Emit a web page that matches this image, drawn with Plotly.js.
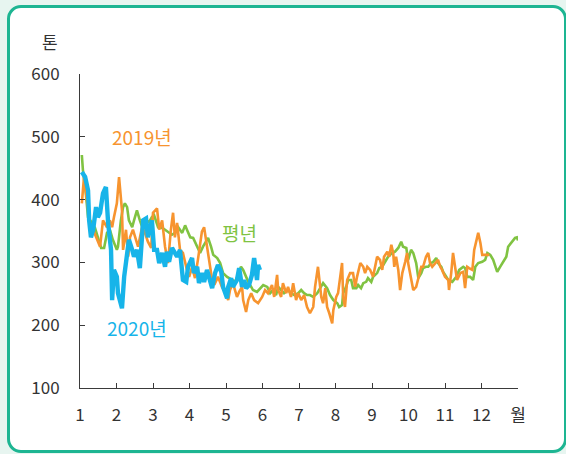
<!DOCTYPE html>
<html>
<head>
<meta charset="utf-8">
<script src="https://cdn.plot.ly/plotly-3.0.1.min.js"></script>
<style>
  html, body { margin: 0; padding: 0; }
  body { width: 566px; height: 454px; background: #e7f5f0; position: relative; overflow: hidden; }
  #frame { position: absolute; left: 7px; top: 5px; width: 554px; height: 442px; border: 3px solid #1db592; border-radius: 14px; background: #ffffff; }
  #chart { position: absolute; left: 0; top: 0; width: 566px; height: 454px; }
</style>
</head>
<body>
<div id="frame"></div>
<div id="chart"></div>
<script>
// 2020년 (month position, tonnes)
const x2020 = [1.05,1.14,1.22,1.25,1.30,1.36,1.44,1.49,1.55,1.63,1.71,1.77,1.85,1.88,1.93,2.01,2.04,2.15,2.21,2.29,2.34,2.43,2.48,2.56,2.64,2.73,2.81,2.86,2.97,3.03,3.11,3.17,3.25,3.33,3.38,3.44,3.52,3.58,3.66,3.74,3.82,3.91,3.96,4.07,4.12,4.21,4.26,4.34,4.40,4.48,4.54,4.62,4.70,4.78,4.87,4.92,5.03,5.06,5.14,5.19,5.30,5.36,5.44,5.50,5.55,5.63,5.71,5.77,5.85,5.88,5.93];
const y2020 = [444,436,415,367,340,352,388,372,379,410,420,363,320,240,288,277,251,227,277,309,336,320,309,320,291,367,370,340,367,320,320,299,315,293,317,301,323,317,309,320,272,269,293,307,283,293,267,283,269,288,277,259,283,296,285,261,243,261,275,261,272,291,261,272,259,264,280,307,272,296,288];

// 2019년
const x2019 = [1.05,1.11,1.19,1.27,1.36,1.47,1.55,1.63,1.74,1.82,1.88,1.93,2.01,2.07,2.15,2.18,2.26,2.32,2.37,2.45,2.54,2.59,2.70,2.78,2.86,2.95,3.00,3.11,3.17,3.25,3.33,3.41,3.49,3.55,3.60,3.66,3.74,3.82,3.93,3.99,4.07,4.15,4.23,4.34,4.40,4.48,4.54,4.62,4.70,4.78,4.89,4.97,5.06,5.11,5.19,5.30,5.36,5.44,5.47,5.55,5.61,5.69,5.77,5.88,5.99,6.07,6.15,6.26,6.32,6.40,6.43,6.51,6.56,6.65,6.70,6.78,6.84,6.92,6.98,7.06,7.14,7.22,7.30,7.39,7.44,7.52,7.61,7.66,7.72,7.77,7.83,7.91,7.94,8.02,8.07,8.13,8.18,8.21,8.26,8.32,8.40,8.48,8.54,8.59,8.68,8.76,8.81,8.87,8.95,9.03,9.09,9.14,9.22,9.28,9.33,9.42,9.47,9.53,9.58,9.61,9.66,9.72,9.77,9.83,9.91,9.96,9.99,10.07,10.13,10.21,10.27,10.35,10.40,10.48,10.54,10.59,10.65,10.73,10.81,10.87,10.92,11.00,11.09,11.11,11.17,11.22,11.28,11.33,11.42,11.50,11.55,11.61,11.66,11.75,11.80,11.88,11.91,11.97,12.02,12.05,12.21];
const y2019 = [394,436,399,363,352,336,325,367,356,367,356,372,394,436,383,320,352,309,340,352,336,325,356,347,333,323,379,386,352,367,325,299,352,379,340,363,320,315,288,277,293,275,304,349,356,325,299,272,267,277,261,253,240,256,267,245,253,261,240,221,240,251,240,235,245,256,251,264,245,280,256,245,267,251,261,245,267,240,251,240,248,229,219,229,261,293,245,235,259,229,219,203,224,245,251,277,299,245,229,272,283,283,261,277,299,293,283,293,288,277,293,309,304,288,309,317,309,328,315,293,309,288,256,283,301,315,299,272,256,261,275,293,293,309,315,299,293,299,304,293,288,277,272,256,283,315,293,272,283,285,259,293,291,288,320,340,347,331,312,312,312];

// 평년
const xAvg = [1.05,1.08,1.16,1.22,1.33,1.41,1.49,1.58,1.66,1.74,1.82,1.90,2.01,2.04,2.12,2.18,2.23,2.29,2.34,2.43,2.48,2.56,2.64,2.73,2.81,2.89,2.97,3.03,3.14,3.25,3.33,3.41,3.52,3.60,3.69,3.80,3.88,3.93,4.02,4.10,4.21,4.29,4.37,4.43,4.51,4.59,4.65,4.76,4.84,4.92,5.03,5.17,5.25,5.33,5.41,5.47,5.55,5.61,5.69,5.74,5.85,5.93,6.02,6.13,6.21,6.29,6.37,6.43,6.51,6.59,6.70,6.78,6.87,6.98,7.06,7.14,7.22,7.30,7.39,7.50,7.58,7.66,7.77,7.85,7.94,8.05,8.10,8.18,8.21,8.29,8.35,8.43,8.48,8.57,8.62,8.70,8.76,8.84,8.89,8.98,9.03,9.14,9.20,9.28,9.36,9.44,9.55,9.63,9.72,9.80,9.85,9.94,9.99,10.07,10.13,10.21,10.27,10.35,10.40,10.48,10.54,10.62,10.68,10.76,10.81,10.90,10.95,11.03,11.09,11.20,11.31,11.39,11.50,11.55,11.61,11.69,11.77,11.83,11.91,12.02,12.10,12.16,12.24,12.32,12.38,12.43,12.51,12.60,12.68,12.73,12.84,12.92,12.97,13.00];
const yAvg = [471,447,410,372,363,355,340,323,323,347,352,336,320,325,367,388,394,388,367,356,367,383,367,352,367,364,372,375,356,355,352,349,344,347,356,347,359,352,340,339,325,315,325,331,339,325,312,307,299,283,277,272,269,280,293,288,277,269,261,256,253,259,264,261,251,256,248,261,256,251,256,251,248,251,256,251,248,248,245,251,259,267,259,248,240,235,229,232,251,261,272,272,259,259,264,259,267,269,275,269,277,283,291,293,301,309,315,317,323,333,325,323,304,320,315,299,275,283,291,293,293,299,301,307,299,293,285,277,272,269,277,288,293,291,277,277,272,293,299,301,304,315,312,304,293,285,293,301,309,325,333,339,340,335];

const tickVals = [1,2,3,4,5,6,7,8,9,10,11,12,13];
const tickText = ['1','2','3','4','5','6','7','8','9','10','11','12','월'];
const yTicks = [100,200,300,400,500,600];

const cOrange = '#f7942f', cGreen = '#80c342', cBlue = '#17b4e9';
const KFONT = '"Noto Sans CJK KR", "Liberation Sans", sans-serif';

const traces = [
  {x: xAvg, y: yAvg, type: 'scatter', mode: 'lines', line: {color: cGreen, width: 2.6}, hoverinfo: 'skip'},
  {x: x2019, y: y2019, type: 'scatter', mode: 'lines', line: {color: cOrange, width: 2.6}, hoverinfo: 'skip'},
  {x: x2020, y: y2020, type: 'scatter', mode: 'lines', line: {color: cBlue, width: 4.4}, hoverinfo: 'skip'}
];

const layout = {
  width: 566, height: 454,
  margin: {l: 80, r: 48, t: 74, b: 66},
  paper_bgcolor: 'rgba(0,0,0,0)', plot_bgcolor: 'rgba(0,0,0,0)',
  showlegend: false,
  font: {family: KFONT, size: 17, color: '#333'},
  xaxis: {
    range: [1, 13], tickmode: 'array', tickvals: tickVals, ticktext: tickText,
    showgrid: false, zeroline: false, showline: true, linecolor: '#3a3a3a', linewidth: 1,
    ticks: 'inside', ticklen: 5, tickcolor: '#3a3a3a',
    tickfont: {family: KFONT, size: 17, color: '#333'}, ticklabelstandoff: 12
  },
  yaxis: {
    range: [100, 600], tickmode: 'array', tickvals: yTicks,
    showgrid: false, zeroline: false, showline: true, linecolor: '#3a3a3a', linewidth: 1,
    ticks: 'inside', ticklen: 5, tickcolor: '#3a3a3a',
    tickfont: {family: KFONT, size: 17, color: '#333'}, ticklabelstandoff: 16
  },
  annotations: [
    {text: '톤', xref: 'paper', yref: 'paper', x: -0.068, y: 1.102, xanchor: 'center', yanchor: 'middle', showarrow: false, font: {family: KFONT, size: 17, color: '#333'}},
    {text: '2019년', x: 2.7, y: 500, showarrow: false, font: {family: KFONT, size: 19, color: cOrange}},
    {text: '평년', x: 5.36, y: 347, showarrow: false, font: {family: KFONT, size: 19, color: cGreen}},
    {text: '2020년', x: 2.56, y: 196, showarrow: false, font: {family: KFONT, size: 19, color: cBlue}}
  ]
};

Plotly.newPlot('chart', traces, layout, {staticPlot: true, displayModeBar: false});
</script>
</body>
</html>
